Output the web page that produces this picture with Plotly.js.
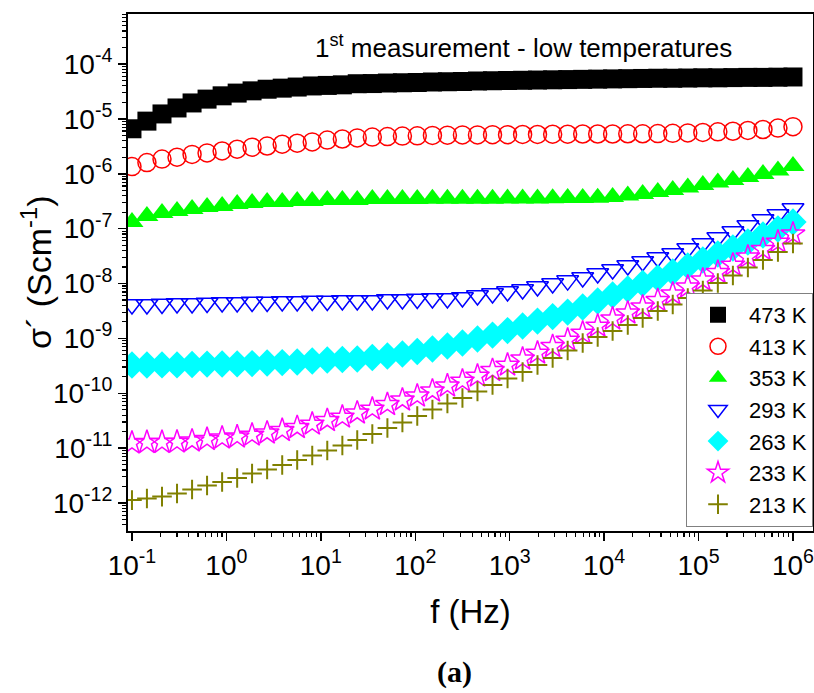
<!DOCTYPE html>
<html>
<head>
<meta charset="utf-8">
<script src="https://cdn.plot.ly/plotly-3.0.1.min.js"></script>
<style>html,body{margin:0;padding:0;background:#fff;}#chart{width:814px;height:693px;}</style>
</head>
<body>
<div id="chart"></div>
<script>
// Frequency (Hz)
const freq = [0.1,0.144,0.208,0.3,0.433,0.624,0.901,1.3,1.87,2.7,
  3.9,5.62,8.11,11.7,16.9,24.3,35.1,50.7,73.1,105,
  152,219,316,456,658,949,1370,1970,2850,4110,
  5930,8550,12300,17800,25600,37000,53300,76900,111000,160000,
  231000,333000,481000,693000,1000000];

// sigma' (S/cm) for each temperature
const s473 = [6.6e-6,9.1e-6,1.23e-5,1.58e-5,1.95e-5,2.29e-5,2.63e-5,2.95e-5,3.24e-5,3.47e-5,
  3.63e-5,3.80e-5,3.98e-5,4.07e-5,4.17e-5,4.37e-5,4.4e-5,4.5e-5,4.55e-5,4.6e-5,
  4.7e-5,4.75e-5,4.8e-5,4.9e-5,4.95e-5,5.0e-5,5.05e-5,5.1e-5,5.15e-5,5.2e-5,
  5.25e-5,5.3e-5,5.35e-5,5.4e-5,5.45e-5,5.5e-5,5.5e-5,5.55e-5,5.6e-5,5.6e-5,
  5.65e-5,5.7e-5,5.7e-5,5.75e-5,5.8e-5];
const s413 = [1.35e-6,1.6e-6,1.85e-6,2.0e-6,2.25e-6,2.4e-6,2.6e-6,2.8e-6,3.05e-6,3.2e-6,
  3.45e-6,3.6e-6,3.8e-6,4.1e-6,4.3e-6,4.5e-6,4.65e-6,4.75e-6,4.85e-6,4.9e-6,
  5.0e-6,5.05e-6,5.1e-6,5.1e-6,5.15e-6,5.15e-6,5.2e-6,5.2e-6,5.25e-6,5.25e-6,
  5.3e-6,5.3e-6,5.3e-6,5.35e-6,5.35e-6,5.4e-6,5.45e-6,5.55e-6,5.65e-6,5.8e-6,
  5.95e-6,6.15e-6,6.4e-6,6.8e-6,7.2e-6];
const s353 = [1.32e-7,1.70e-7,1.93e-7,2.09e-7,2.28e-7,2.48e-7,2.58e-7,2.81e-7,2.93e-7,3.05e-7,
  3.05e-7,3.18e-7,3.18e-7,3.32e-7,3.32e-7,3.32e-7,3.47e-7,3.47e-7,3.47e-7,3.48e-7,
  3.49e-7,3.5e-7,3.5e-7,3.51e-7,3.52e-7,3.53e-7,3.54e-7,3.55e-7,3.57e-7,3.6e-7,
  3.63e-7,3.67e-7,3.77e-7,4.0e-7,4.28e-7,4.65e-7,5.06e-7,5.62e-7,6.24e-7,6.95e-7,
  7.7e-7,8.73e-7,9.9e-7,1.15e-6,1.38e-6];
const s293 = [4.14e-9,4.14e-9,4.23e-9,4.32e-9,4.32e-9,4.41e-9,4.5e-9,4.5e-9,4.6e-9,4.6e-9,
  4.7e-9,4.7e-9,4.8e-9,4.8e-9,4.9e-9,4.9e-9,4.9e-9,5.11e-9,5.11e-9,5.22e-9,
  5.33e-9,5.33e-9,5.56e-9,6.04e-9,6.57e-9,7.15e-9,7.77e-9,8.82e-9,1.0e-8,1.13e-8,
  1.29e-8,1.52e-8,1.8e-8,2.13e-8,2.52e-8,2.98e-8,3.52e-8,4.34e-8,5.36e-8,6.89e-8,
  8.86e-8,1.14e-7,1.47e-7,1.81e-7,2.33e-7];
const s263 = [3.27e-10,3.27e-10,3.28e-10,3.28e-10,3.34e-10,3.4e-10,3.41e-10,3.42e-10,3.48e-10,3.56e-10,
  3.63e-10,3.71e-10,3.87e-10,4.04e-10,4.12e-10,4.21e-10,4.48e-10,4.77e-10,5.19e-10,5.77e-10,
  6.40e-10,7.26e-10,8.23e-10,9.75e-10,1.15e-9,1.39e-9,1.68e-9,2.07e-9,2.50e-9,3.02e-9,
  3.73e-9,4.80e-9,6.17e-9,7.94e-9,1.0e-8,1.26e-8,1.62e-8,2.09e-8,2.68e-8,3.45e-8,
  4.44e-8,5.70e-8,7.66e-8,9.85e-8,1.32e-7];
const s233 = [1.24e-11,1.27e-11,1.27e-11,1.29e-11,1.35e-11,1.44e-11,1.53e-11,1.60e-11,1.73e-11,1.89e-11,
  2.10e-11,2.38e-11,2.75e-11,3.19e-11,3.69e-11,4.37e-11,5.16e-11,6.24e-11,7.54e-11,8.91e-11,
  1.10e-10,1.36e-10,1.67e-10,2.06e-10,2.60e-10,3.27e-10,4.21e-10,5.41e-10,7.11e-10,9.33e-10,
  1.25e-9,1.68e-9,2.26e-9,2.90e-9,3.73e-9,4.90e-9,6.44e-9,8.64e-9,1.16e-8,1.59e-8,
  2.17e-8,3.04e-8,4.17e-8,5.70e-8,7.98e-8];
const s213 = [1.13e-12,1.21e-12,1.31e-12,1.49e-12,1.76e-12,2.08e-12,2.42e-12,2.85e-12,3.44e-12,4.07e-12,
  4.92e-12,6.07e-12,7.34e-12,9.06e-12,1.12e-11,1.41e-11,1.81e-11,2.33e-11,2.93e-11,3.85e-11,
  5.06e-11,6.50e-11,8.19e-11,1.08e-10,1.41e-10,1.86e-10,2.44e-10,3.27e-10,4.39e-10,6.01e-10,
  8.23e-10,1.06e-9,1.36e-9,1.75e-9,2.35e-9,3.15e-9,4.14e-9,5.45e-9,7.45e-9,1.02e-8,
  1.40e-8,1.96e-8,2.68e-8,3.75e-8,5.36e-8];

const seriesNames = ['473 K','413 K','353 K','293 K','263 K','233 K','213 K'];
const seriesData = [s473, s413, s353, s293, s263, s233, s213];

// tick positions and labels
const xTickVals = [0.1, 1, 10, 100, 1000, 1e4, 1e5, 1e6];
const xTickText = ['10<sup>-1</sup>','10<sup>0</sup>','10<sup>1</sup>','10<sup>2</sup>','10<sup>3</sup>','10<sup>4</sup>','10<sup>5</sup>','10<sup>6</sup>'];
const yTickVals = [1e-12, 1e-11, 1e-10, 1e-9, 1e-8, 1e-7, 1e-6, 1e-5, 1e-4];
const yTickText = ['10<sup>-12</sup>','10<sup>-11</sup>','10<sup>-10</sup>','10<sup>-9</sup>','10<sup>-8</sup>','10<sup>-7</sup>','10<sup>-6</sup>','10<sup>-5</sup>','10<sup>-4</sup>'];

const styles = [
  {symbol:'square', size:19, color:'#000000', line:{width:0}},
  {symbol:'circle-open', size:18, color:'#ff0000', line:{width:1.5, color:'#ff0000'}},
  {symbol:'triangle-up', size:20, color:'#00ff00', line:{width:0}},
  {symbol:'triangle-down-open', size:19, color:'#0000ff', line:{width:1.5, color:'#0000ff'}},
  {symbol:'diamond', size:21, color:'#00ffff', line:{width:0}},
  {symbol:'star-open', size:18, color:'#ff00ff', line:{width:1.5, color:'#ff00ff'}},
  {symbol:'cross-thin-open', size:14, color:'#808000', line:{width:2, color:'#808000'}}
];

const traces = seriesData.map((ys, i) => ({
  x: freq, y: ys, type: 'scatter', mode: 'markers', name: seriesNames[i],
  marker: styles[i], cliponaxis: true
}));

const font = 'Liberation Sans, Arial, sans-serif';
const axisCommon = {
  type: 'log', showline: true, linecolor: '#000', linewidth: 2, mirror: true,
  ticks: 'outside', ticklen: 8, tickwidth: 1.5, tickcolor: '#000',
  minor: {ticks: 'outside', ticklen: 4, tickwidth: 1.2, tickcolor: '#000', dtick: 'D1', showgrid: false},
  showgrid: false, zeroline: false, tickmode: 'array', ticklabeloverflow: 'allow',
  tickfont: {family: font, size: 28, color: '#000'}
};
const layout = {
  width: 814, height: 693,
  margin: {l:128, r:1, t:14, b:162, pad:0},
  paper_bgcolor: '#ffffff', plot_bgcolor: '#ffffff',
  showlegend: true,
  xaxis: Object.assign({}, axisCommon, {
    range: [-1.042, 6.212], tickvals: xTickVals, ticktext: xTickText,
    title: {text: 'f (Hz)', font: {family: font, size: 33, color: '#000'}, standoff: 20}
  }),
  yaxis: Object.assign({}, axisCommon, {
    range: [-12.51, -3.089], tickvals: yTickVals, ticktext: yTickText
  }),
  legend: {
    x: 1, xanchor: 'right', y: 0.008, yanchor: 'bottom',
    bgcolor: '#ffffff', bordercolor: '#808080', borderwidth: 1,
    font: {family: font, size: 22, color: '#000'},
    itemsizing: 'trace', itemwidth: 52
  },
  annotations: [
    {text: '1<sup>st</sup> measurement - low temperatures', xref: 'paper', yref: 'paper',
     x: (523.5-128)/685, y: (531-46)/517, xanchor: 'center', yanchor: 'middle', showarrow: false,
     font: {family: font, size: 26, color: '#000'}},
    {text: 'σ´ (Scm<sup>-1</sup>)', xref: 'paper', yref: 'paper', textangle: -90,
     x: (36-128)/685, y: (531-272)/517, xanchor: 'center', yanchor: 'middle', showarrow: false,
     font: {family: font, size: 34, color: '#000'}},
    {text: '<b>(a)</b>', xref: 'paper', yref: 'paper', x: (454-128)/685, y: -(672-531)/517,
     xanchor: 'center', yanchor: 'middle', showarrow: false,
     font: {family: 'Liberation Serif, DejaVu Serif, serif', size: 30, color: '#000'}}
  ]
};

Plotly.newPlot('chart', traces, layout, {displayModeBar: false, staticPlot: true});
</script>
</body>
</html>
